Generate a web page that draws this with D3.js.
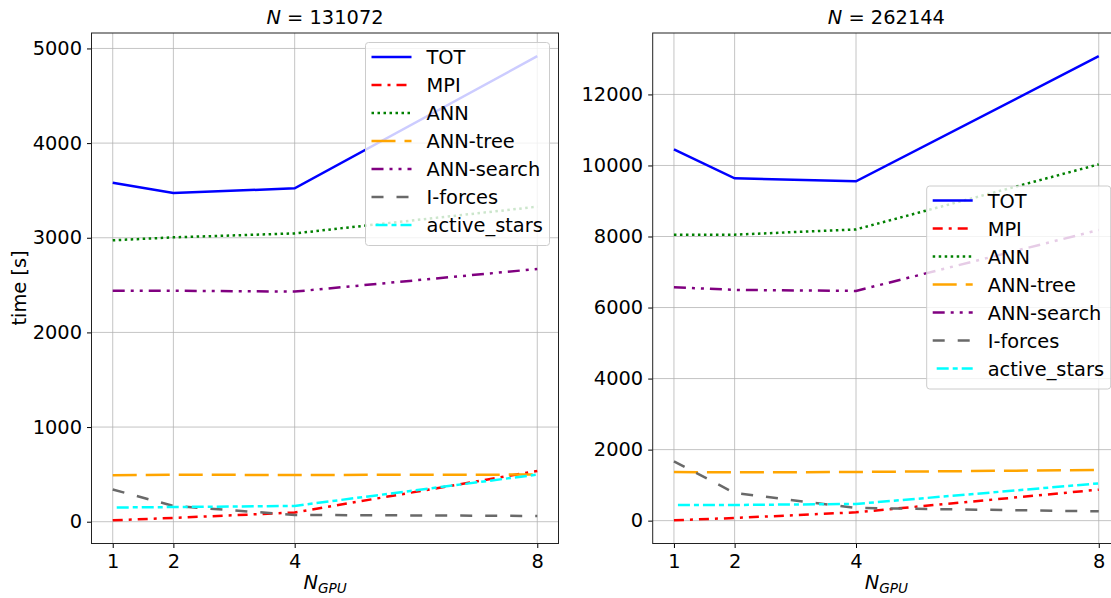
<!DOCTYPE html>
<html>
<head>
<meta charset="utf-8"/>
<title>timings</title>
<script src="https://d3js.org/d3.v7.min.js"></script>
<style>
  body { margin: 0; background: #fff; }
  svg { display: block; font-family: "DejaVu Sans", sans-serif; }
</style>
</head>
<body>
<div id="chart"></div>
<script>
// data (seconds)
var gpus = [1, 2, 4, 8];
var xTicks = [1, 2, 4, 8];
var names = ["TOT", "MPI", "ANN", "ANN-tree", "ANN-search", "I-forces", "active_stars"];

var tot131k    = [3580, 3472, 3522, 4918];
var mpi131k    = [15, 40, 97, 536];
var ann131k    = [2973, 3004, 3046, 3328];
var tree131k   = [491, 496, 494, 498];
var search131k = [2441, 2440, 2431, 2670];
var forces131k = [340, 167, 72, 61];
var stars131k  = [150, 155, 167, 498];

var tot262k    = [10453, 9637, 9553, 13076];
var mpi262k    = [10, 75, 234, 872];
var ann262k    = [8051, 8051, 8200, 10031];
var tree262k   = [1370, 1360, 1370, 1425];
var search262k = [6572, 6496, 6468, 8183];
var forces262k = [1668, 779, 357, 262];
var stars262k  = [441, 441, 470, 1050];

var yTicks131k = [0, 1000, 2000, 3000, 4000, 5000];
var yTicks262k = [0, 2000, 4000, 6000, 8000, 10000, 12000];

// line styles, same order as names
var styles = [
  {color: "#0000ff", dash: null, off: 0},
  {color: "#ff0000", dash: "10,6,3,6", off: 0},
  {color: "#008000", dash: "2.5,3.5", off: 0},
  {color: "#ffa500", dash: "24,9", off: 0},
  {color: "#800080", dash: "12,6,3,6,3,6", off: 0},
  {color: "#696969", dash: "12,13", off: 0},
  {color: "#00ffff", dash: "12,4,5,4", off: 21}
];

var FS = 19.4;
var W = 1111, H = 598;
var svg = d3.select("#chart").append("svg")
  .attr("width", W).attr("height", H);

function panel(opts) {
  var left = opts.left, right = opts.right, top = 33, bottom = 543.5;
  var all = [].concat.apply([], opts.series);
  var lo = d3.min(all), hi = d3.max(all), pad = (hi - lo) * 0.05;

  var x = d3.scaleLinear().domain([0.65, 8.35]).range([left, right]);
  var y = d3.scaleLinear().domain([lo - pad, hi + pad]).range([bottom, top]);

  var g = svg.append("g");

  // grid
  g.append("g").selectAll("line").data(xTicks).join("line")
    .attr("x1", d => x(d)).attr("x2", d => x(d))
    .attr("y1", top).attr("y2", bottom)
    .attr("stroke", "#b0b0b0").attr("stroke-opacity", 0.75).attr("stroke-width", 1);
  g.append("g").selectAll("line").data(opts.yTicks).join("line")
    .attr("x1", left).attr("x2", right)
    .attr("y1", d => y(d)).attr("y2", d => y(d))
    .attr("stroke", "#b0b0b0").attr("stroke-opacity", 0.75).attr("stroke-width", 1);

  // axes
  var xa = g.append("g").attr("transform", "translate(0," + bottom + ")")
    .call(d3.axisBottom(x).tickValues(xTicks).tickSize(4.5).tickPadding(6).tickFormat(d3.format("d")));
  var ya = g.append("g").attr("transform", "translate(" + left + ",0)")
    .call(d3.axisLeft(y).tickValues(opts.yTicks).tickSize(4.5).tickPadding(5).tickFormat(d3.format("d")));
  [xa, ya].forEach(function(a) {
    a.attr("font-size", FS).attr("font-family", "DejaVu Sans, sans-serif");
    a.select(".domain").remove();
    a.selectAll("text").attr("fill", "#000");
    a.selectAll("line").attr("stroke", "#000").attr("stroke-width", 1);
  });

  // lines
  var line = d3.line().x((d, i) => x(gpus[i])).y(d => y(d));
  opts.series.forEach(function(s, k) {
    g.append("path").datum(s)
      .attr("fill", "none")
      .attr("stroke", styles[k].color)
      .attr("stroke-width", 2.5)
      .attr("stroke-dasharray", styles[k].dash)
      .attr("stroke-dashoffset", styles[k].off)
      .attr("d", line);
  });

  // spines
  g.append("rect").attr("x", left).attr("y", top)
    .attr("width", right - left).attr("height", bottom - top)
    .attr("fill", "none").attr("stroke", "#222").attr("stroke-width", 1);

  // title
  var cx = (left + right) / 2;
  var t = g.append("text").attr("x", cx).attr("y", 24)
    .attr("text-anchor", "middle").attr("font-size", FS);
  t.append("tspan").attr("font-style", "italic").text("N");
  t.append("tspan").text(" = " + opts.n);

  // x label
  var xl = g.append("text").attr("x", cx).attr("y", 589)
    .attr("text-anchor", "middle").attr("font-size", FS).attr("font-style", "italic");
  xl.append("tspan").text("N");
  xl.append("tspan").attr("font-size", 13.6).attr("dy", 4).text("GPU");

  // legend
  var L = opts.legend;
  var lg = g.append("g").attr("transform", "translate(" + L.x + "," + L.y + ")");
  lg.append("rect").attr("width", L.w).attr("height", 203)
    .attr("rx", 3).attr("fill", "#fff").attr("fill-opacity", 0.8)
    .attr("stroke", "#cccccc").attr("stroke-width", 1);
  names.forEach(function(n, k) {
    var yy = 14.5 + k * 28;
    lg.append("line").attr("x1", 6).attr("x2", 46).attr("y1", yy).attr("y2", yy)
      .attr("stroke", styles[k].color).attr("stroke-width", 2.5)
      .attr("stroke-dasharray", styles[k].dash)
      .attr("stroke-dashoffset", styles[k].off);
    lg.append("text").attr("x", 61).attr("y", yy + 7)
      .attr("font-size", FS).text(n);
  });
}

panel({
  left: 91.5, right: 558.5, n: "131072", yTicks: yTicks131k,
  series: [tot131k, mpi131k, ann131k, tree131k, search131k, forces131k, stars131k],
  legend: {x: 365.5, y: 42.5, w: 184}
});
panel({
  left: 652.7, right: 1120, n: "262144", yTicks: yTicks262k,
  series: [tot262k, mpi262k, ann262k, tree262k, search262k, forces262k, stars262k],
  legend: {x: 926.7, y: 186, w: 184}
});

// y label
svg.append("text")
  .attr("transform", "translate(26,288) rotate(-90)")
  .attr("text-anchor", "middle").attr("font-size", FS)
  .text("time [s]");
</script>
</body>
</html>
